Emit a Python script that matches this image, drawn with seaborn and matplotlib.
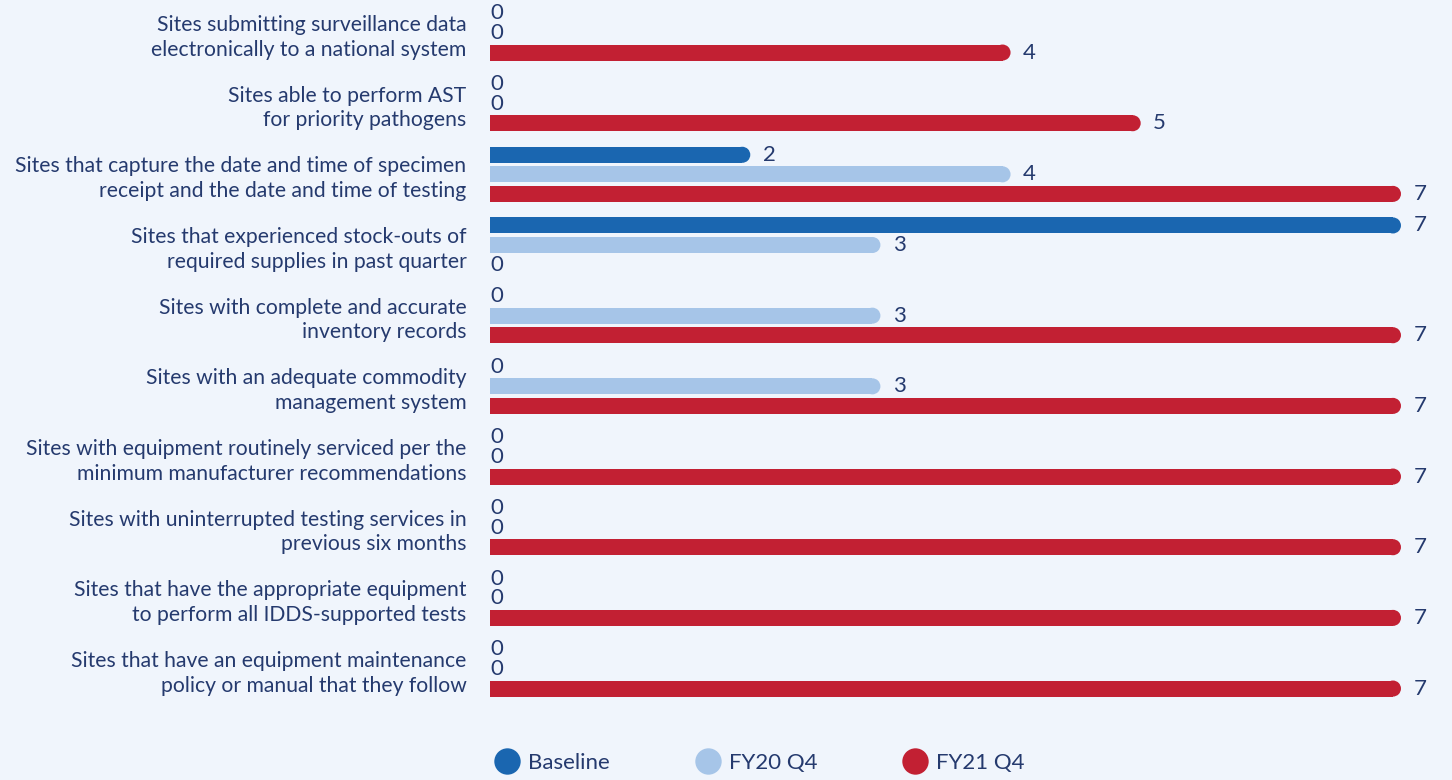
import seaborn as sns
import numpy as np
import matplotlib.pyplot as plt
import pandas as pd
from matplotlib.patches import Ellipse
from matplotlib.lines import Line2D

# categories and series values
categories = [
    "Sites submitting surveillance data\nelectronically to a national system",
    "Sites able to perform AST\nfor priority pathogens",
    "Sites that capture the date and time of specimen\nreceipt and the date and time of testing",
    "Sites that experienced stock-outs of\nrequired supplies in past quarter",
    "Sites with complete and accurate\ninventory records",
    "Sites with an adequate commodity\nmanagement system",
    "Sites with equipment routinely serviced per the\nminimum manufacturer recommendations",
    "Sites with uninterrupted testing services in\nprevious six months",
    "Sites that have the appropriate equipment\nto perform all IDDS-supported tests",
    "Sites that have an equipment maintenance\npolicy or manual that they follow",
]
series = ["Baseline", "FY20 Q4", "FY21 Q4"]
baseline = [0, 0, 2, 7, 0, 0, 0, 0, 0, 0]
fy20_q4 = [0, 0, 4, 3, 3, 3, 0, 0, 0, 0]
fy21_q4 = [4, 5, 7, 0, 7, 7, 7, 7, 7, 7]

colors = ["#1a66b0", "#a6c5e8", "#c22033"]
navy = "#253a6e"
bg = "#f0f5fc"

df = pd.DataFrame({
    "category": categories * 3,
    "series": np.repeat(series, len(categories)),
    "value": baseline + fy20_q4 + fy21_q4,
})

sns.set_theme(style="white")
plt.rcParams["font.family"] = ["Lato", "DejaVu Sans"]

fig = plt.figure(figsize=(14.52, 7.8), dpi=100, facecolor=bg)
W, H = 1452, 780
ax_h = 710
ax = fig.add_axes([490 / W, 1 - ax_h / H, (W - 490) / W, ax_h / H])
ax.set_facecolor(bg)

sns.barplot(data=df, y="category", x="value", hue="series", palette=colors,
            orient="h", width=0.83, gap=0.18, saturation=1, linewidth=0,
            legend=False, ax=ax)

px_per_unit = 130.14
ax.set_xlim(0, (W - 490) / px_per_unit)
ylo, yhi = 9 + 41 / 70.67, -33 / 70.67
ax.set_ylim(ylo, yhi)
py_per_unit = ax_h / (ylo - yhi)
ax.set_xlabel("")
ax.set_ylabel("")
ax.set_xticks([])
ax.tick_params(axis="y", length=0, pad=17, labelsize=15.2, labelcolor=navy)
for lab in ax.get_yticklabels():
    lab.set_linespacing(1.3)
sns.despine(ax=ax, left=True, bottom=True)

# round the right ends of the bars
for cont, vals in zip(ax.containers, [baseline, fy20_q4, fy21_q4]):
    for bar, v in zip(cont, vals):
        bar.set_edgecolor("none")
        y0, h = bar.get_y(), bar.get_height()
        r = abs(h) * py_per_unit / 2 / px_per_unit
        yc = y0 + h / 2
        if v > 0:
            bar.set_width(v - r)
            ax.add_patch(Ellipse((v - r, yc), 2 * r, abs(h),
                                 facecolor=bar.get_facecolor(), edgecolor="none"))
            ax.annotate(str(v), (v, yc), xytext=(9, 0), textcoords="offset points",
                        va="center", ha="left", fontsize=16, color=navy)
        else:
            ax.annotate(str(v), (0, yc), xytext=(0, 0), textcoords="offset points",
                        va="center", ha="left", fontsize=16, color=navy)

handles = [Line2D([], [], marker="o", linestyle="", markersize=19,
                  markerfacecolor=c, markeredgecolor="none") for c in colors]
fig.legend(handles, series, loc="center left", bbox_to_anchor=(476 / W, 1 - 763 / H),
           ncol=3, frameon=False, fontsize=16, labelcolor=navy,
           columnspacing=3.9, handletextpad=0.45, handlelength=1.0)

fig.savefig("out.png", dpi=100, facecolor=bg)
